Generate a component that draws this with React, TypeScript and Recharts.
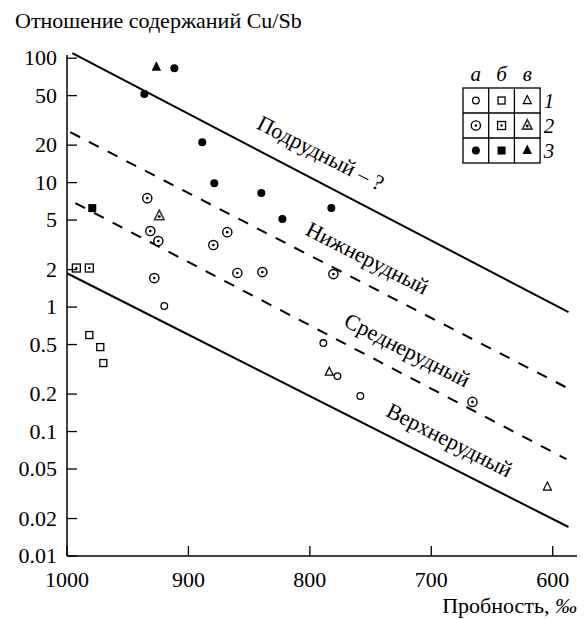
import { ReferenceDot, ReferenceLine, Scatter, ScatterChart, XAxis, YAxis } from "recharts";

const FONT = '"Liberation Serif"';
const TXT = { fontFamily: FONT, fontSize: 22 };

const X_TICKS = [1000, 900, 800, 700, 600];
const Y_TICKS = [0.01, 0.02, 0.05, 0.1, 0.2, 0.5, 1, 2, 5, 10, 20, 50, 100];

// row 1 = open, 2 = dotted, 3 = filled; column а = circle, б = square, в = triangle
const OPEN_CIRCLES = [
  { x: 919.9, y: 1.02 },
  { x: 788.9, y: 0.514 },
  { x: 777.3, y: 0.279 },
  { x: 758.4, y: 0.193 },
];
const OPEN_SQUARES = [
  { x: 981.6, y: 0.596 },
  { x: 972.6, y: 0.477 },
  { x: 970.1, y: 0.355 },
];
const OPEN_TRIANGLES = [
  { x: 784, y: 0.3 },
  { x: 604.4, y: 0.0358 },
];
const DOT_CIRCLES = [
  { x: 933.9, y: 7.5 },
  { x: 931.4, y: 4.08 },
  { x: 924.8, y: 3.39 },
  { x: 879.5, y: 3.15 },
  { x: 868, y: 4.0 },
  { x: 859.7, y: 1.88 },
  { x: 928.1, y: 1.71 },
  { x: 839.1, y: 1.91 },
  { x: 780.6, y: 1.84 },
  { x: 666.1, y: 0.173 },
];
const DOT_SQUARES = [
  { x: 992.3, y: 2.06 },
  { x: 981.6, y: 2.06 },
];
const DOT_TRIANGLES = [{ x: 924, y: 5.38 }];
const FILLED_CIRCLES = [
  { x: 911.6, y: 83 },
  { x: 936.3, y: 51.4 },
  { x: 888.6, y: 21.1 },
  { x: 878.7, y: 9.9 },
  { x: 840, y: 8.24 },
  { x: 782.3, y: 6.24 },
  { x: 822.6, y: 5.09 },
];
const FILLED_SQUARES = [{ x: 979.2, y: 6.24 }];
const FILLED_TRIANGLES = [{ x: 926.4, y: 84.7 }];

// zone boundaries: [x1, y1, x2, y2]
const SOLID_BOUNDS = [
  [995.6, 109.6, 587, 0.91],
  [1000, 1.87, 587, 0.0171],
];
const DASHED_BOUNDS = [
  [997.3, 25.4, 589.5, 0.228],
  [993.1, 6.84, 588.7, 0.06],
];

const ZONE_LABELS = [
  { text: "Подрудный – ?", x: 791, y: 17.3 },
  { text: "Нижнерудный", x: 752.6, y: 2.48 },
  { text: "Среднерудный", x: 719.7, y: 0.452 },
  { text: "Верхнерудный", x: 685, y: 0.0855 },
];

type P = { cx?: number; cy?: number };

const openCircle = ({ cx = 0, cy = 0 }: P) => (
  <circle cx={cx} cy={cy} r={3.3} fill="#fff" stroke="#000" strokeWidth={1.3} />
);
const dotCircle = ({ cx = 0, cy = 0 }: P) => (
  <g>
    <circle cx={cx} cy={cy} r={4.6} fill="#fff" stroke="#000" strokeWidth={1.4} />
    <circle cx={cx} cy={cy} r={1.3} fill="#000" />
  </g>
);
const filledCircle = ({ cx = 0, cy = 0 }: P) => <circle cx={cx} cy={cy} r={4} fill="#000" />;
const openSquare = ({ cx = 0, cy = 0 }: P) => (
  <rect x={cx - 3.5} y={cy - 3.5} width={7} height={7} fill="#fff" stroke="#000" strokeWidth={1.3} />
);
const dotSquare = ({ cx = 0, cy = 0 }: P) => (
  <g>
    <rect x={cx - 4} y={cy - 4} width={8} height={8} fill="#fff" stroke="#000" strokeWidth={1.3} />
    <circle cx={cx} cy={cy} r={1.2} fill="#000" />
  </g>
);
const filledSquare = ({ cx = 0, cy = 0 }: P) => (
  <rect x={cx - 4} y={cy - 4} width={8} height={8} fill="#000" />
);
const tri = (cx: number, cy: number, s: number) =>
  `M${cx},${cy - s * 0.62} L${cx + s / 2},${cy + s * 0.38} L${cx - s / 2},${cy + s * 0.38} Z`;
const openTriangle = ({ cx = 0, cy = 0 }: P) => (
  <path d={tri(cx, cy, 8)} fill="#fff" stroke="#000" strokeWidth={1.2} />
);
const dotTriangle = ({ cx = 0, cy = 0 }: P) => (
  <g>
    <path d={tri(cx, cy, 9.5)} fill="#fff" stroke="#333" strokeWidth={1.6} />
    <circle cx={cx} cy={cy + 0.5} r={1.4} fill="#000" />
  </g>
);
const filledTriangle = ({ cx = 0, cy = 0 }: P) => <path d={tri(cx, cy, 9.5)} fill="#000" />;

function YTick({ x = 0, y = 0, payload }: { x?: number; y?: number; payload?: { value: number } }) {
  return (
    <g>
      <line x1={x} y1={y} x2={x + 10} y2={y} stroke="#000" strokeWidth={1.3} />
      <text x={x - 10} y={y + 7} textAnchor="end" style={TXT} fill="#000">
        {String(payload?.value)}
      </text>
    </g>
  );
}

function XTick({ x = 0, y = 0, payload }: { x?: number; y?: number; payload?: { value: number } }) {
  return (
    <g>
      <line x1={x} y1={y} x2={x} y2={y - 10} stroke="#000" strokeWidth={1.3} />
      <text x={x} y={y + 31} textAnchor="middle" style={TXT} fill="#000">
        {String(payload?.value)}
      </text>
    </g>
  );
}

const LEGEND_COLS = ["а", "б", "в"];
const LEGEND_ROWS = ["1", "2", "3"];
const LEGEND_SHAPES = [
  [openCircle, openSquare, openTriangle],
  [dotCircle, dotSquare, dotTriangle],
  [filledCircle, filledSquare, filledTriangle],
];

function LegendTable() {
  const left = 463;
  const top = 88;
  const cw = 25.7;
  const rh = 25;
  const italic = { fontFamily: FONT, fontSize: 21, fontStyle: "italic" };
  return (
    <g>
      {LEGEND_COLS.map((c, i) => (
        <text key={c} x={left + cw * (i + 0.5)} y={81} textAnchor="middle" style={italic}>
          {c}
        </text>
      ))}
      {LEGEND_ROWS.map((r, j) => (
        <text key={r} x={549} y={top + rh * (j + 0.5) + 7} textAnchor="middle" style={italic}>
          {r}
        </text>
      ))}
      <rect x={left} y={top} width={cw * 3} height={rh * 3} fill="none" stroke="#000" strokeWidth={1.3} />
      {[1, 2].map((k) => (
        <line key={`v${k}`} x1={left + cw * k} y1={top} x2={left + cw * k} y2={top + rh * 3} stroke="#000" strokeWidth={1.3} />
      ))}
      {[1, 2].map((k) => (
        <line key={`h${k}`} x1={left} y1={top + rh * k} x2={left + cw * 3} y2={top + rh * k} stroke="#000" strokeWidth={1.3} />
      ))}
      {LEGEND_SHAPES.map((row, j) =>
        row.map((Shape, i) => (
          <g key={`${j}-${i}`}>{Shape({ cx: left + cw * (i + 0.5), cy: top + rh * (j + 0.5) })}</g>
        ))
      )}
    </g>
  );
}

const SERIES = [
  { data: OPEN_CIRCLES, shape: openCircle },
  { data: OPEN_SQUARES, shape: openSquare },
  { data: OPEN_TRIANGLES, shape: openTriangle },
  { data: DOT_CIRCLES, shape: dotCircle },
  { data: DOT_SQUARES, shape: dotSquare },
  { data: DOT_TRIANGLES, shape: dotTriangle },
  { data: FILLED_CIRCLES, shape: filledCircle },
  { data: FILLED_SQUARES, shape: filledSquare },
  { data: FILLED_TRIANGLES, shape: filledTriangle },
];

export default function App() {
  return (
    <div
      style={{
        position: "absolute",
        left: 0,
        top: 0,
        width: 586,
        height: 619,
        background: "#fff",
        fontFamily: FONT,
      }}
    >
      <ScatterChart width={586} height={619} margin={{ top: 55, right: 9, bottom: 33, left: 7 }}>
        <XAxis
          type="number"
          dataKey="x"
          domain={[580, 1000]}
          reversed
          allowDataOverflow
          ticks={X_TICKS}
          height={30}
          tickSize={0}
          tickMargin={0}
          axisLine={{ stroke: "#000", strokeWidth: 1.5 }}
          tick={<XTick />}
        />
        <YAxis
          type="number"
          dataKey="y"
          scale="log"
          domain={[0.01, 106]}
          allowDataOverflow
          ticks={Y_TICKS}
          width={60}
          tickSize={0}
          tickMargin={0}
          axisLine={{ stroke: "#000", strokeWidth: 1.5 }}
          tick={<YTick />}
        />
        {SOLID_BOUNDS.map(([x1, y1, x2, y2], i) => (
          <ReferenceLine
            key={`s${i}`}
            segment={[{ x: x1, y: y1 }, { x: x2, y: y2 }]}
            stroke="#000"
            strokeWidth={2}
            ifOverflow="visible"
          />
        ))}
        {DASHED_BOUNDS.map(([x1, y1, x2, y2], i) => (
          <ReferenceLine
            key={`d${i}`}
            segment={[{ x: x1, y: y1 }, { x: x2, y: y2 }]}
            stroke="#000"
            strokeWidth={2}
            strokeDasharray="11 10"
            ifOverflow="visible"
          />
        ))}
        {ZONE_LABELS.map((l) => (
          <ReferenceDot
            key={l.text}
            x={l.x}
            y={l.y}
            r={0}
            ifOverflow="visible"
            shape={(p: P) => (
              <text
                x={p.cx}
                y={p.cy}
                transform={`rotate(27 ${p.cx} ${p.cy})`}
                textAnchor="middle"
                dominantBaseline="central"
                style={TXT}
                fill="#000"
              >
                {l.text}
              </text>
            )}
          />
        ))}
        {SERIES.map((s, i) => (
          <Scatter key={i} data={s.data} shape={s.shape} isAnimationActive={false} />
        ))}
      </ScatterChart>
      <svg
        width={586}
        height={619}
        style={{ position: "absolute", left: 0, top: 0, pointerEvents: "none" }}
      >
        <text x={15} y={28} style={TXT} fill="#000">
          Отношение содержаний Cu/Sb
        </text>
        <text x={577} y={613} textAnchor="end" style={TXT} fill="#000">
          Пробность, <tspan style={{ fontStyle: "italic" }}>‰</tspan>
        </text>
        <LegendTable />
      </svg>
    </div>
  );
}
